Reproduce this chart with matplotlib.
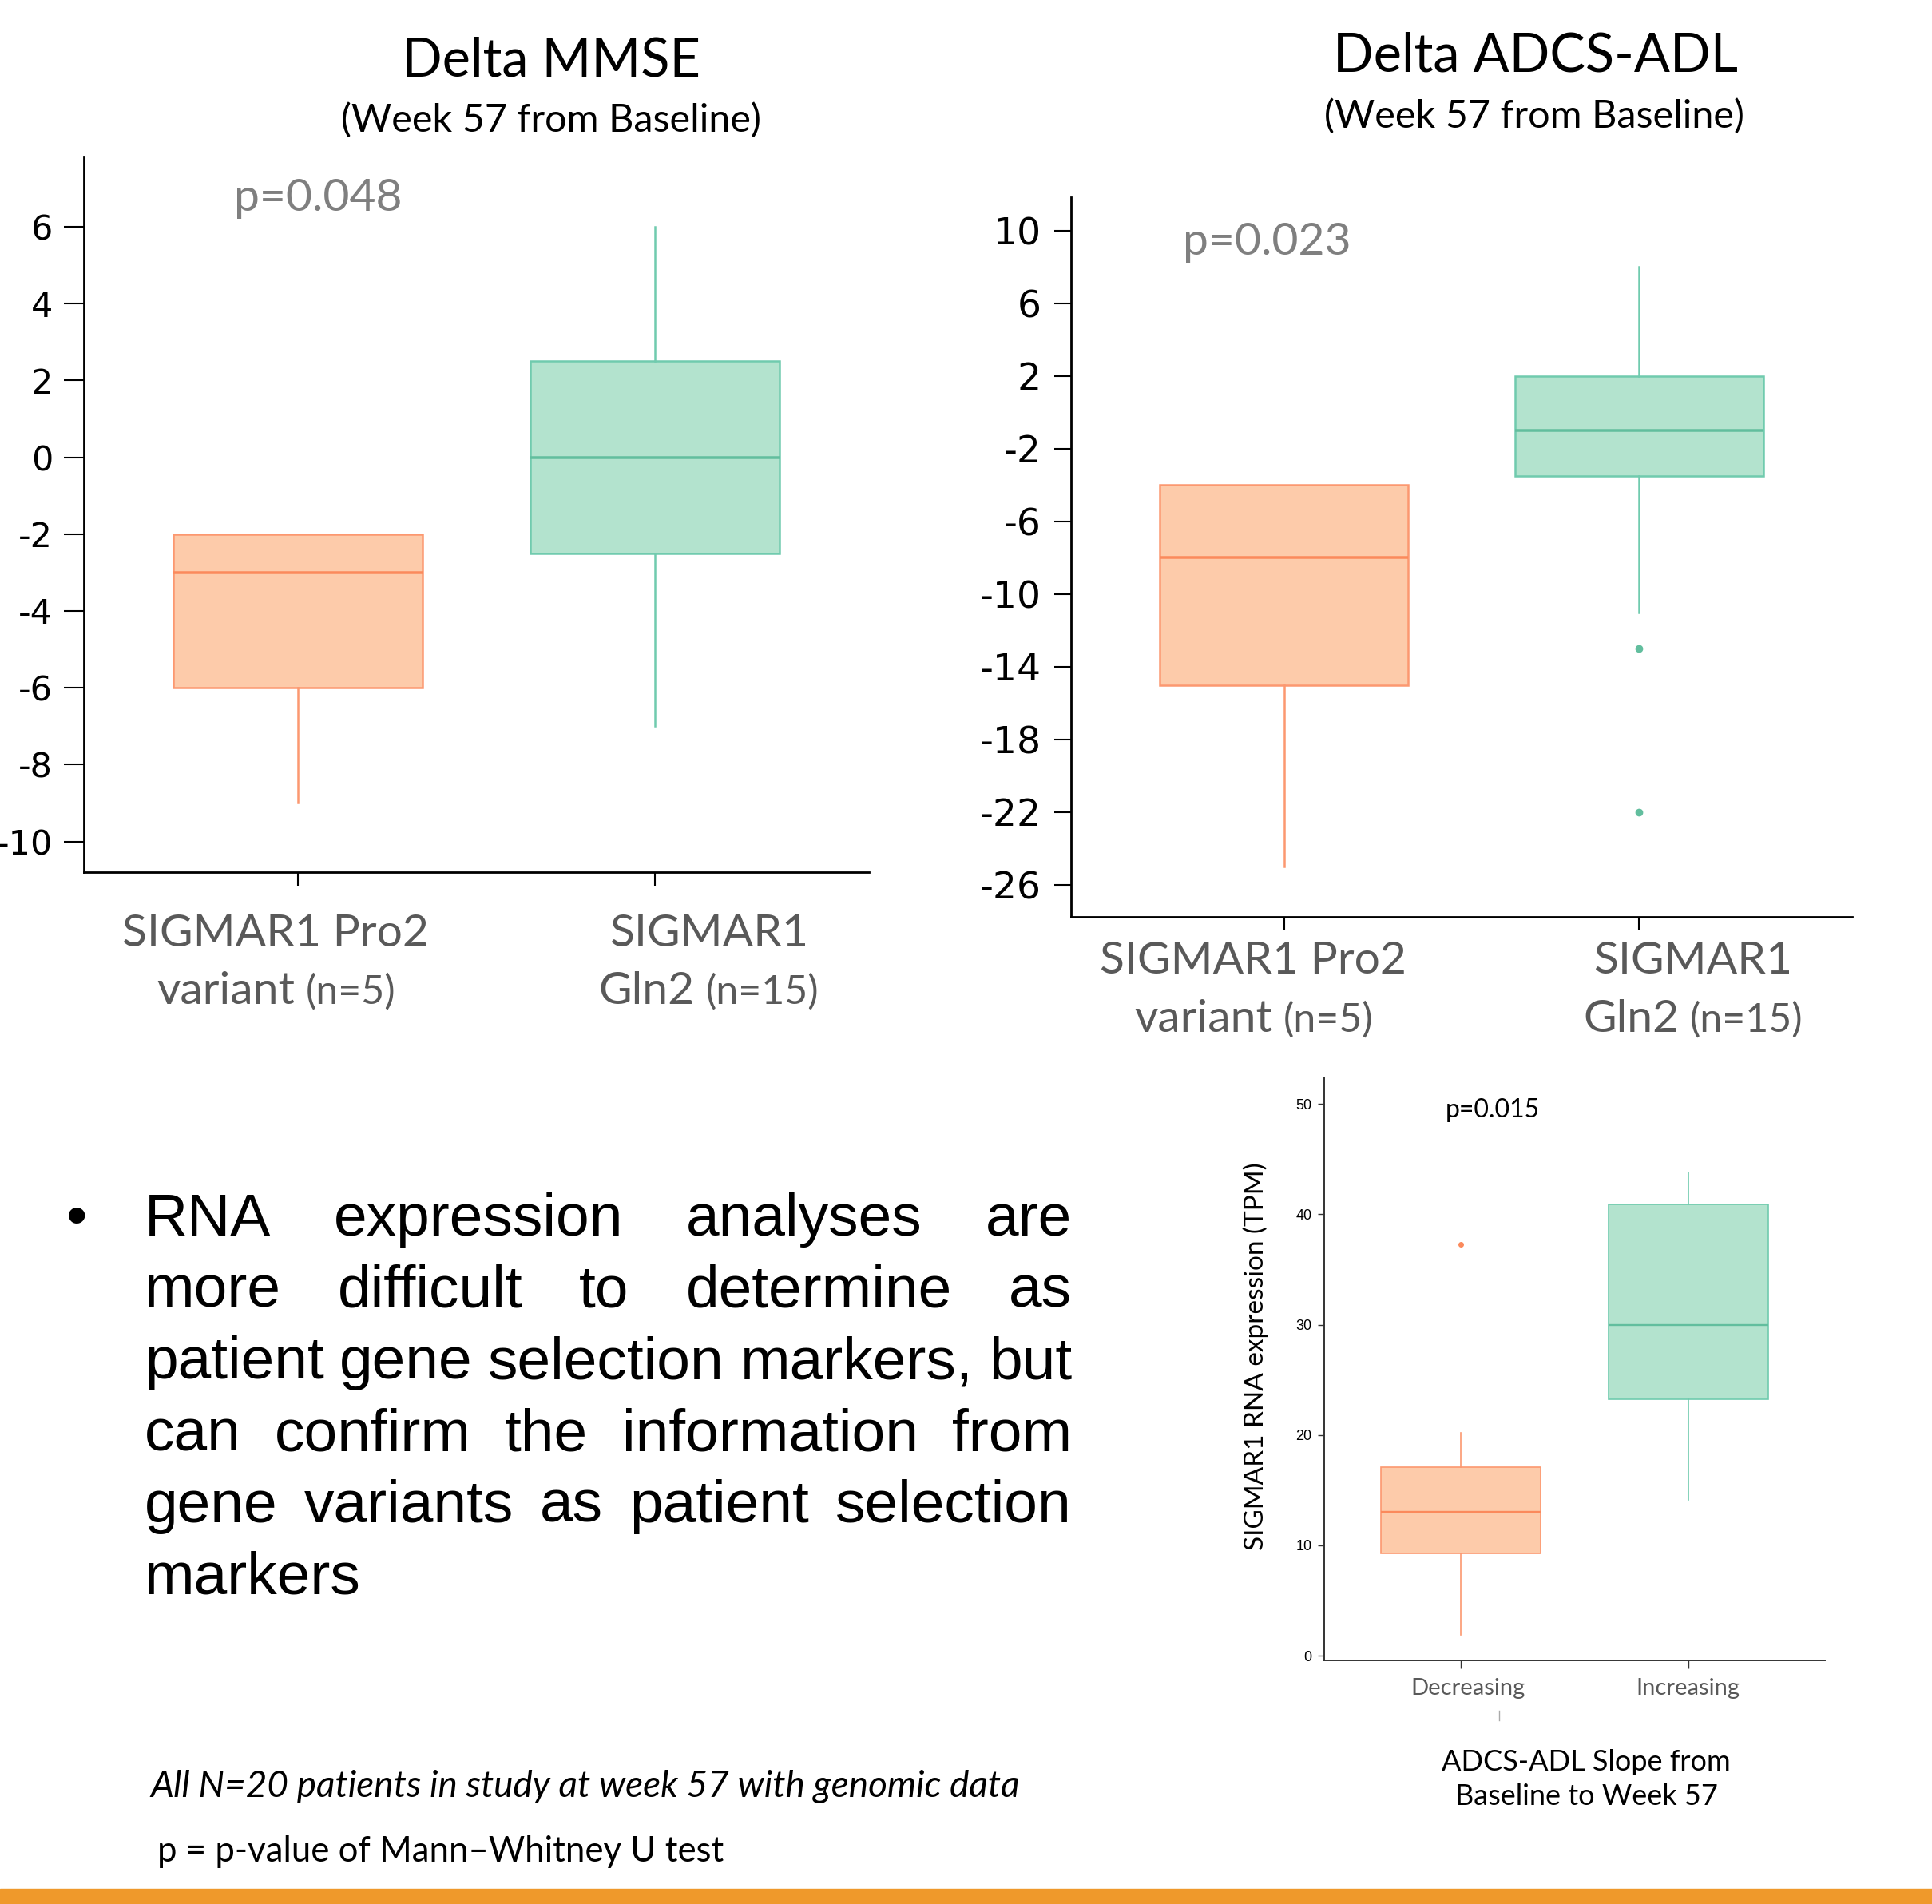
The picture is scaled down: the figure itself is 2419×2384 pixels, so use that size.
import matplotlib
matplotlib.use('Agg')
import matplotlib.pyplot as plt
from matplotlib.lines import Line2D
from matplotlib.patches import Rectangle

plt.rcParams['axes.unicode_minus'] = False

W, H = 2419, 2384

# Delta MMSE box stats (Pro2 variant, Gln2)
mmse_q1 = [-6, -2.5]
mmse_med = [-3, 0]
mmse_q3 = [-2, 2.5]
mmse_lo = [-9, -7]
mmse_hi = [-2, 6]
mmse_out = [[], []]

# Delta ADCS-ADL box stats
adl_q1 = [-15, -3.5]
adl_med = [-8, -1]
adl_q3 = [-4, 2]
adl_lo = [-25, -11]
adl_hi = [-4, 8]
adl_out = [[], [-13, -22]]

# SIGMAR1 RNA expression (Decreasing, Increasing)
rna_q1 = [9.3, 23.2]
rna_med = [13.0, 30.0]
rna_q3 = [17.1, 40.9]
rna_lo = [1.9, 14.1]
rna_hi = [20.2, 43.8]
rna_out = [[37.3], []]

mmse_ticks = [6, 4, 2, 0, -2, -4, -6, -8, -10]
adl_ticks = [10, 6, 2, -2, -6, -10, -14, -18, -22, -26]
rna_ticks = [0, 10, 20, 30, 40, 50]
rna_cats = ['Decreasing', 'Increasing']

bullet_lines = [
    'RNA expression analyses are',
    'more difficult to determine as',
    'patient gene selection markers, but',
    'can confirm the information from',
    'gene variants as patient selection',
    'markers',
]

fills = ['#FDCBAA', '#B3E3CE']
edges = ['#FC9870', '#70CBAE']
meds = ['#FB8A5C', '#62BE9E']
grey = '#595959'

fig = plt.figure(figsize=(W / 100, H / 100), dpi=100)
renderer = fig.canvas.get_renderer()


def fx(x):
    return x / W


def fy(y):
    return 1 - y / H


def make_stats(q1, med, q3, lo, hi, out):
    return [dict(q1=q1[i], med=med[i], q3=q3[i], whislo=lo[i], whishi=hi[i], fliers=out[i])
            for i in range(len(q1))]


def draw_box(ax, st, lw, ms):
    parts = ax.bxp(st, positions=[1, 2], widths=0.7, patch_artist=True, showcaps=False)
    for i in range(2):
        parts['boxes'][i].set(facecolor=fills[i], edgecolor=edges[i], linewidth=lw)
        parts['medians'][i].set(color=meds[i], linewidth=lw * 1.4)
        for w in parts['whiskers'][2 * i:2 * i + 2]:
            w.set(color=edges[i], linewidth=lw)
        parts['fliers'][i].set(marker='o', markersize=ms, markerfacecolor=meds[i],
                               markeredgecolor=meds[i])
    ax.set_xlim(0.4, 2.6)
    for s in ['top', 'right']:
        ax.spines[s].set_visible(False)


def px_axes(l, t, r, b):
    return fig.add_axes([fx(l), fy(b), (r - l) / W, (b - t) / H])


# chart 1
ax1 = px_axes(105, 196, 1088, 1092)
draw_box(ax1, make_stats(mmse_q1, mmse_med, mmse_q3, mmse_lo, mmse_hi, mmse_out), 1.8, 6)
ax1.set_ylim(-10.8, 7.83)
ax1.set_yticks(mmse_ticks)
ax1.set_xticks([1, 2])
ax1.set_xticklabels([])
ax1.tick_params(axis='y', labelsize=31, length=18, width=1.5, pad=10)
ax1.tick_params(axis='x', length=12, width=1.5)
for s in ['left', 'bottom']:
    ax1.spines[s].set_linewidth(2)

# chart 2
ax2 = px_axes(1341, 247, 2319, 1148)
draw_box(ax2, make_stats(adl_q1, adl_med, adl_q3, adl_lo, adl_hi, adl_out), 1.8, 6)
ax2.set_ylim(-27.76, 11.83)
ax2.set_yticks(adl_ticks)
ax2.set_xticks([1, 2])
ax2.set_xticklabels([])
ax2.tick_params(axis='y', labelsize=34, length=15, width=1.5, pad=12)
ax2.tick_params(axis='x', length=12, width=1.5)
for s in ['left', 'bottom']:
    ax2.spines[s].set_linewidth(2)

# chart 3
ax3 = px_axes(1658, 1349, 2285, 2079)
draw_box(ax3, make_stats(rna_q1, rna_med, rna_q3, rna_lo, rna_hi, rna_out), 1.2, 4)
ax3.set_ylim(-0.43, 52.4)
ax3.set_yticks(rna_ticks)
ax3.set_xticks([1, 2])
ax3.set_xticklabels([])
ax3.tick_params(axis='y', labelsize=13, length=6, width=1, pad=5, colors='#333333')
ax3.tick_params(axis='x', length=7, width=1, colors='#333333')
for s in ['left', 'bottom']:
    ax3.spines[s].set_linewidth(1.4)
    ax3.spines[s].set_color('#333333')
for lab in ax3.get_yticklabels():
    lab.set_family('Liberation Sans')
    lab.set_color('black')

# titles
fig.text(fx(690), fy(95), 'Delta MMSE', fontsize=48, family='Lato', ha='center', va='baseline')
fig.text(fx(690), fy(165), '(Week 57 from Baseline)', fontsize=35, family='Lato', ha='center', va='baseline')
fig.text(fx(1922), fy(90), 'Delta ADCS-ADL', fontsize=48, family='Lato', ha='center', va='baseline')
fig.text(fx(1921), fy(160), '(Week 57 from Baseline)', fontsize=35, family='Lato', ha='center', va='baseline')

# p values
fig.text(fx(293), fy(264), 'p=0.048', fontsize=41, family='Lato', color='#7F7F7F', va='baseline')
fig.text(fx(1481), fy(319), 'p=0.023', fontsize=41, family='Lato', color='#7F7F7F', va='baseline')
fig.text(fx(1869), fy(1399), 'p=0.015', fontsize=23, family='Lato', color='black', ha='center', va='baseline')


def mixed(xc, yb, big, small):
    t1 = fig.text(0, fy(yb), big, fontsize=41, family='Lato', color=grey, va='baseline')
    t2 = fig.text(0, fy(yb), small, fontsize=36, family='Lato', color=grey, va='baseline')
    w1 = t1.get_window_extent(renderer).width
    w2 = t2.get_window_extent(renderer).width
    gap = 14
    x0 = xc - (w1 + gap + w2) / 2
    t1.set_x(fx(x0))
    t2.set_x(fx(x0 + w1 + gap))


# group labels
fig.text(fx(345), fy(1185), 'SIGMAR1 Pro2', fontsize=41, family='Lato', color=grey, ha='center', va='baseline')
mixed(346, 1257, 'variant', '(n=5)')
fig.text(fx(888), fy(1185), 'SIGMAR1', fontsize=41, family='Lato', color=grey, ha='center', va='baseline')
mixed(887, 1257, 'Gln2', '(n=15)')
fig.text(fx(1569), fy(1219), 'SIGMAR1 Pro2', fontsize=41, family='Lato', color=grey, ha='center', va='baseline')
mixed(1570, 1292, 'variant', '(n=5)')
fig.text(fx(2120), fy(1219), 'SIGMAR1', fontsize=41, family='Lato', color=grey, ha='center', va='baseline')
mixed(2120, 1292, 'Gln2', '(n=15)')

# chart 3 labels
for xc, lab in zip([1838, 2113], rna_cats):
    fig.text(fx(xc), fy(2122), lab, fontsize=21, family='Lato', color=grey, ha='center', va='baseline')
fig.text(fx(1572), fy(1698), 'SIGMAR1 RNA expression (TPM)', fontsize=24, family='Lato',
         rotation=90, ha='center', va='center')
fig.text(fx(1986), fy(2217), 'ADCS-ADL Slope from', fontsize=26, family='Lato', ha='center', va='baseline')
fig.text(fx(1986), fy(2260), 'Baseline to Week 57', fontsize=26, family='Lato', ha='center', va='baseline')
fig.add_artist(Line2D([fx(1877), fx(1877)], [fy(2142), fy(2154)], color='#aaaaaa', linewidth=1))

# bullet paragraph, justified
fig.text(fx(96), fy(1547), '\u2022', fontsize=54, family='Liberation Sans', ha='center', va='baseline')
x_left, x_right = 181, 1342
for i, line in enumerate(bullet_lines):
    yb = 1547 + 89.7 * i
    words = line.split()
    ts = [fig.text(0, fy(yb), w, fontsize=54, family='Liberation Sans', va='baseline') for w in words]
    widths = [t.get_window_extent(renderer).width for t in ts]
    if i < len(bullet_lines) - 1 and len(words) > 1:
        gap = (x_right - x_left - sum(widths)) / (len(words) - 1)
    else:
        gap = 0.278 * 54 * 100 / 72
    x = x_left
    for t, w in zip(ts, widths):
        t.set_x(fx(x))
        x += w + gap

# footnotes
fig.text(fx(188), fy(2250), 'All N=20 patients in study at week 57 with genomic data', fontsize=33,
         family='Lato', style='italic', va='baseline')
fig.text(fx(197), fy(2331), 'p = p-value of Mann\u2013Whitney U test', fontsize=31.5, family='Lato', va='baseline')

# orange strip at bottom
fig.add_artist(Rectangle((0, 0), 1, (H - 2365) / H, transform=fig.transFigure, color='#EF992B'))

fig.savefig('out.png', dpi=100)
